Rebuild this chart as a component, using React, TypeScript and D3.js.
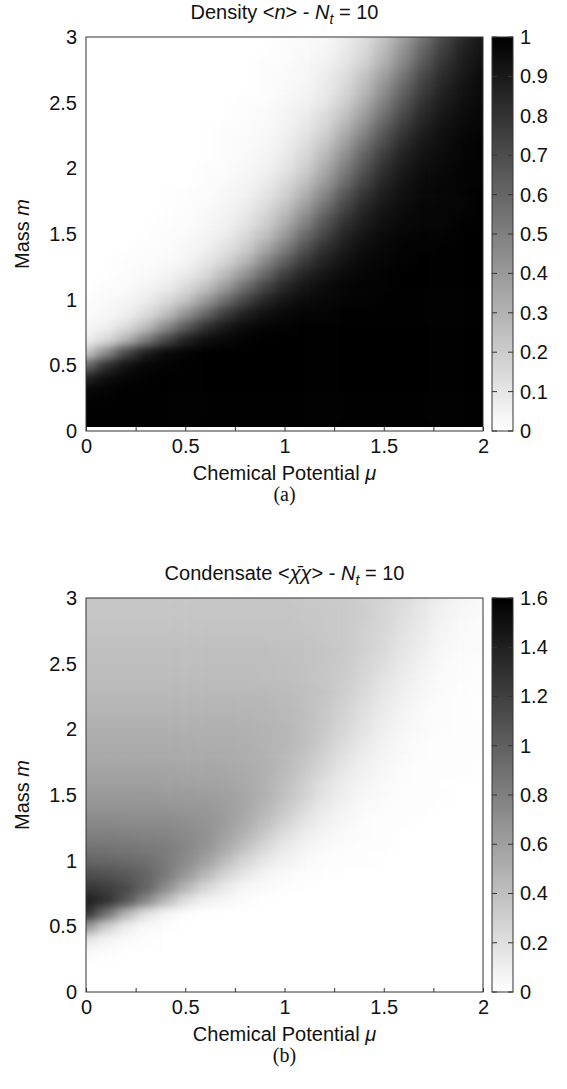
import { useEffect, useRef } from 'react';
import * as d3 from 'd3';

// grid of the two maps: columns = chemical potential mu, rows = mass m
const chemicalPotential = [0, 0.1, 0.2, 0.3, 0.4, 0.5, 0.6, 0.7, 0.8, 0.9, 1, 1.1, 1.2, 1.3, 1.4, 1.5, 1.6, 1.7, 1.8, 1.9, 2];
const mass = [0.03, 0.1, 0.2, 0.3, 0.4, 0.5, 0.6, 0.7, 0.8, 0.9, 1, 1.1, 1.2, 1.3, 1.4, 1.5, 1.6, 1.7, 1.8, 1.9, 2, 2.1, 2.2, 2.3, 2.4, 2.5, 2.6, 2.7, 2.8, 2.9, 3];

// density <n>, one row per mass value
const density = [
  [1, 1, 1, 1, 1, 1, 1, 1, 1, 1, 1, 1, 1, 1, 1, 1, 1, 1, 1, 1, 1],
  [1, 1, 1, 1, 1, 1, 1, 1, 1, 1, 1, 1, 1, 1, 1, 1, 1, 1, 1, 1, 1],
  [1, 1, 1, 1, 1, 1, 1, 1, 1, 1, 1, 1, 1, 1, 1, 1, 1, 1, 1, 1, 1],
  [0.98, 0.99, 1, 1, 1, 1, 1, 1, 1, 1, 1, 1, 1, 1, 1, 1, 1, 1, 1, 1, 1],
  [0.87, 0.95, 0.98, 0.99, 1, 1, 1, 1, 1, 1, 1, 1, 1, 1, 1, 1, 1, 1, 1, 1, 1],
  [0.58, 0.81, 0.93, 0.98, 0.99, 1, 1, 1, 1, 1, 1, 1, 1, 1, 1, 1, 1, 1, 1, 1, 1],
  [0.21, 0.45, 0.71, 0.88, 0.96, 0.99, 1, 1, 1, 1, 1, 1, 1, 1, 1, 1, 1, 1, 1, 1, 1],
  [0.06, 0.14, 0.29, 0.5, 0.71, 0.86, 0.94, 0.97, 0.99, 1, 1, 1, 1, 1, 1, 1, 1, 1, 1, 1, 1],
  [0.03, 0.06, 0.13, 0.25, 0.44, 0.64, 0.8, 0.9, 0.96, 0.98, 0.99, 1, 1, 1, 1, 1, 1, 1, 1, 1, 1],
  [0.01, 0.03, 0.06, 0.13, 0.24, 0.41, 0.59, 0.76, 0.87, 0.94, 0.97, 0.99, 0.99, 1, 1, 1, 1, 1, 1, 1, 1],
  [0.01, 0.02, 0.04, 0.07, 0.14, 0.24, 0.39, 0.57, 0.73, 0.85, 0.92, 0.96, 0.98, 0.99, 0.99, 1, 1, 1, 1, 1, 1],
  [0, 0.01, 0.02, 0.04, 0.07, 0.14, 0.24, 0.39, 0.57, 0.73, 0.85, 0.92, 0.96, 0.98, 0.99, 0.99, 1, 1, 1, 1, 1],
  [0, 0, 0.01, 0.02, 0.04, 0.08, 0.14, 0.26, 0.41, 0.59, 0.75, 0.86, 0.92, 0.96, 0.98, 0.99, 1, 1, 1, 1, 1],
  [0, 0, 0.01, 0.01, 0.02, 0.04, 0.09, 0.16, 0.28, 0.45, 0.62, 0.77, 0.87, 0.93, 0.97, 0.98, 0.99, 1, 1, 1, 1],
  [0, 0, 0, 0.01, 0.01, 0.03, 0.05, 0.11, 0.19, 0.33, 0.5, 0.67, 0.81, 0.89, 0.95, 0.97, 0.99, 0.99, 1, 1, 1],
  [0, 0, 0, 0, 0.01, 0.02, 0.04, 0.07, 0.14, 0.24, 0.39, 0.57, 0.73, 0.85, 0.92, 0.96, 0.98, 0.99, 0.99, 1, 1],
  [0, 0, 0, 0, 0.01, 0.01, 0.03, 0.05, 0.1, 0.18, 0.31, 0.48, 0.66, 0.8, 0.89, 0.94, 0.97, 0.98, 0.99, 1, 1],
  [0, 0, 0, 0, 0, 0.01, 0.02, 0.04, 0.07, 0.14, 0.24, 0.39, 0.57, 0.73, 0.85, 0.92, 0.96, 0.98, 0.99, 0.99, 1],
  [0, 0, 0, 0, 0, 0.01, 0.01, 0.03, 0.05, 0.1, 0.18, 0.31, 0.48, 0.66, 0.8, 0.89, 0.94, 0.97, 0.98, 0.99, 1],
  [0, 0, 0, 0, 0, 0, 0.01, 0.02, 0.04, 0.07, 0.14, 0.24, 0.39, 0.57, 0.73, 0.85, 0.92, 0.96, 0.98, 0.99, 0.99],
  [0, 0, 0, 0, 0, 0, 0.01, 0.01, 0.03, 0.05, 0.1, 0.19, 0.33, 0.5, 0.67, 0.81, 0.9, 0.95, 0.97, 0.99, 0.99],
  [0, 0, 0, 0, 0, 0, 0, 0.01, 0.02, 0.04, 0.08, 0.15, 0.27, 0.43, 0.61, 0.76, 0.87, 0.93, 0.96, 0.98, 0.99],
  [0, 0, 0, 0, 0, 0, 0, 0.01, 0.02, 0.03, 0.06, 0.12, 0.22, 0.36, 0.54, 0.7, 0.83, 0.91, 0.95, 0.98, 0.99],
  [0, 0, 0, 0, 0, 0, 0, 0.01, 0.01, 0.02, 0.05, 0.09, 0.17, 0.3, 0.46, 0.64, 0.78, 0.88, 0.94, 0.97, 0.98],
  [0, 0, 0, 0, 0, 0, 0, 0, 0.01, 0.02, 0.04, 0.07, 0.14, 0.24, 0.39, 0.57, 0.73, 0.85, 0.92, 0.96, 0.98],
  [0, 0, 0, 0, 0, 0, 0, 0, 0.01, 0.01, 0.03, 0.05, 0.1, 0.19, 0.33, 0.5, 0.67, 0.81, 0.9, 0.95, 0.97],
  [0, 0, 0, 0, 0, 0, 0, 0, 0, 0.01, 0.02, 0.04, 0.08, 0.15, 0.27, 0.43, 0.61, 0.76, 0.87, 0.93, 0.96],
  [0, 0, 0, 0, 0, 0, 0, 0, 0, 0.01, 0.02, 0.03, 0.07, 0.13, 0.23, 0.38, 0.55, 0.72, 0.84, 0.91, 0.96],
  [0, 0, 0, 0, 0, 0, 0, 0, 0, 0.01, 0.01, 0.03, 0.05, 0.1, 0.18, 0.31, 0.48, 0.66, 0.8, 0.89, 0.94],
  [0, 0, 0, 0, 0, 0, 0, 0, 0, 0, 0.01, 0.02, 0.04, 0.08, 0.15, 0.27, 0.43, 0.61, 0.76, 0.87, 0.93],
  [0, 0, 0, 0, 0, 0, 0, 0, 0, 0, 0.01, 0.02, 0.03, 0.07, 0.13, 0.23, 0.38, 0.55, 0.72, 0.84, 0.91],
];

// condensate <chibar chi>, one row per mass value
const condensate = [
  [0, 0, 0, 0, 0, 0, 0, 0, 0, 0, 0, 0, 0, 0, 0, 0, 0, 0, 0, 0, 0],
  [0, 0, 0, 0, 0, 0, 0, 0, 0, 0, 0, 0, 0, 0, 0, 0, 0, 0, 0, 0, 0],
  [0, 0, 0, 0, 0, 0, 0, 0, 0, 0, 0, 0, 0, 0, 0, 0, 0, 0, 0, 0, 0],
  [0.03, 0.02, 0, 0, 0, 0, 0, 0, 0, 0, 0, 0, 0, 0, 0, 0, 0, 0, 0, 0, 0],
  [0.16, 0.07, 0.03, 0.01, 0, 0, 0, 0, 0, 0, 0, 0, 0, 0, 0, 0, 0, 0, 0, 0, 0],
  [0.67, 0.3, 0.11, 0.03, 0.02, 0, 0, 0, 0, 0, 0, 0, 0, 0, 0, 0, 0, 0, 0, 0, 0],
  [1.28, 0.89, 0.47, 0.19, 0.06, 0.02, 0, 0, 0, 0, 0, 0, 0, 0, 0, 0, 0, 0, 0, 0, 0],
  [1.41, 1.29, 1.07, 0.75, 0.44, 0.21, 0.09, 0.05, 0.02, 0, 0, 0, 0, 0, 0, 0, 0, 0, 0, 0, 0],
  [1.26, 1.22, 1.13, 0.98, 0.73, 0.47, 0.26, 0.13, 0.05, 0.03, 0.01, 0, 0, 0, 0, 0, 0, 0, 0, 0, 0],
  [1.11, 1.09, 1.05, 0.97, 0.85, 0.66, 0.46, 0.27, 0.15, 0.07, 0.03, 0.01, 0.01, 0, 0, 0, 0, 0, 0, 0, 0],
  [0.97, 0.96, 0.94, 0.91, 0.84, 0.74, 0.6, 0.42, 0.26, 0.15, 0.08, 0.04, 0.02, 0.01, 0.01, 0, 0, 0, 0, 0, 0],
  [0.88, 0.87, 0.86, 0.84, 0.82, 0.76, 0.67, 0.54, 0.38, 0.24, 0.13, 0.07, 0.04, 0.02, 0.01, 0.01, 0, 0, 0, 0, 0],
  [0.8, 0.8, 0.79, 0.78, 0.77, 0.74, 0.69, 0.59, 0.47, 0.33, 0.2, 0.11, 0.06, 0.03, 0.02, 0.01, 0, 0, 0, 0, 0],
  [0.74, 0.74, 0.73, 0.73, 0.73, 0.71, 0.67, 0.62, 0.53, 0.41, 0.28, 0.17, 0.1, 0.05, 0.02, 0.01, 0.01, 0, 0, 0, 0],
  [0.68, 0.68, 0.68, 0.67, 0.67, 0.66, 0.65, 0.61, 0.55, 0.46, 0.34, 0.22, 0.13, 0.07, 0.03, 0.02, 0.01, 0.01, 0, 0, 0],
  [0.64, 0.64, 0.64, 0.64, 0.63, 0.63, 0.61, 0.6, 0.55, 0.49, 0.39, 0.28, 0.17, 0.1, 0.05, 0.03, 0.01, 0.01, 0.01, 0, 0],
  [0.6, 0.6, 0.6, 0.6, 0.59, 0.59, 0.58, 0.57, 0.54, 0.49, 0.41, 0.31, 0.2, 0.12, 0.07, 0.04, 0.02, 0.01, 0.01, 0, 0],
  [0.57, 0.57, 0.57, 0.57, 0.57, 0.56, 0.56, 0.55, 0.53, 0.49, 0.43, 0.35, 0.25, 0.15, 0.09, 0.05, 0.02, 0.01, 0.01, 0.01, 0],
  [0.54, 0.54, 0.54, 0.54, 0.54, 0.53, 0.53, 0.52, 0.51, 0.49, 0.44, 0.37, 0.28, 0.18, 0.11, 0.06, 0.03, 0.02, 0.01, 0.01, 0],
  [0.52, 0.52, 0.52, 0.52, 0.52, 0.52, 0.51, 0.51, 0.5, 0.48, 0.45, 0.4, 0.32, 0.22, 0.14, 0.08, 0.04, 0.02, 0.01, 0.01, 0.01],
  [0.5, 0.5, 0.5, 0.5, 0.5, 0.5, 0.5, 0.5, 0.49, 0.48, 0.45, 0.41, 0.34, 0.25, 0.17, 0.1, 0.05, 0.03, 0.02, 0.01, 0.01],
  [0.48, 0.48, 0.48, 0.48, 0.48, 0.48, 0.48, 0.48, 0.47, 0.46, 0.44, 0.41, 0.35, 0.27, 0.19, 0.12, 0.06, 0.03, 0.02, 0.01, 0],
  [0.46, 0.46, 0.46, 0.46, 0.46, 0.46, 0.46, 0.46, 0.45, 0.45, 0.43, 0.4, 0.36, 0.29, 0.21, 0.14, 0.08, 0.04, 0.02, 0.01, 0],
  [0.44, 0.44, 0.44, 0.44, 0.44, 0.44, 0.44, 0.44, 0.44, 0.43, 0.42, 0.4, 0.37, 0.31, 0.24, 0.16, 0.1, 0.05, 0.03, 0.01, 0.01],
  [0.42, 0.42, 0.42, 0.42, 0.42, 0.42, 0.42, 0.42, 0.42, 0.41, 0.4, 0.39, 0.36, 0.32, 0.26, 0.18, 0.11, 0.06, 0.03, 0.02, 0.01],
  [0.41, 0.41, 0.41, 0.41, 0.41, 0.41, 0.41, 0.41, 0.41, 0.41, 0.4, 0.39, 0.37, 0.33, 0.27, 0.21, 0.14, 0.08, 0.04, 0.02, 0.01],
  [0.4, 0.4, 0.4, 0.4, 0.4, 0.4, 0.4, 0.4, 0.4, 0.4, 0.39, 0.38, 0.37, 0.34, 0.29, 0.23, 0.16, 0.1, 0.05, 0.03, 0.02],
  [0.38, 0.38, 0.38, 0.38, 0.38, 0.38, 0.38, 0.38, 0.38, 0.38, 0.37, 0.37, 0.35, 0.33, 0.29, 0.24, 0.17, 0.11, 0.06, 0.03, 0.02],
  [0.37, 0.37, 0.37, 0.37, 0.37, 0.37, 0.37, 0.37, 0.37, 0.37, 0.37, 0.36, 0.35, 0.33, 0.3, 0.26, 0.19, 0.13, 0.07, 0.04, 0.02],
  [0.36, 0.36, 0.36, 0.36, 0.36, 0.36, 0.36, 0.36, 0.36, 0.36, 0.36, 0.35, 0.35, 0.33, 0.31, 0.26, 0.21, 0.14, 0.09, 0.05, 0.03],
  [0.35, 0.35, 0.35, 0.35, 0.35, 0.35, 0.35, 0.35, 0.35, 0.35, 0.35, 0.34, 0.34, 0.33, 0.3, 0.27, 0.22, 0.16, 0.1, 0.06, 0.03],
];

const muTicks = [0, 0.25, 0.5, 0.75, 1, 1.25, 1.5, 1.75, 2];
const muLabels = [0, 0.5, 1, 1.5, 2];
const massLabels = [0, 0.5, 1, 1.5, 2, 2.5, 3];
const densityTicks = [0, 0.1, 0.2, 0.3, 0.4, 0.5, 0.6, 0.7, 0.8, 0.9, 1];
const condensateTicks = [0, 0.2, 0.4, 0.6, 0.8, 1, 1.2, 1.4, 1.6];

const FONT = '"Liberation Sans", Arial, Helvetica, sans-serif';
const FS = 20;
const W = 567;
const H = 1089;
const left = 86;
const right = 483;
const plotH = 394;
const barX = 492;
const barW = 21;

// cell borders half way between grid points, edge cells pushed out so the blur has something to eat
function edges(vals, pad) {
  const e = vals.map((v, i) => (i === 0 ? v - pad : (vals[i - 1] + v) / 2));
  e.push(vals[vals.length - 1] + pad);
  return e;
}

function Panel({ id, top, grid, max, barTicks, title, tag }) {
  const xAxisRef = useRef(null);
  const yAxisRef = useRef(null);
  const barAxisRef = useRef(null);

  const x = d3.scaleLinear().domain([0, 2]).range([left, right]);
  const y = d3.scaleLinear().domain([0, 3]).range([top + plotH, top]);
  const cy = d3.scaleLinear().domain([0, max]).range([top + plotH, top]);
  const color = d3.scaleLinear().domain([0, max]).range(['#ffffff', '#000000']);

  const muEdges = edges(chemicalPotential, 0.2);
  const massEdges = edges(mass, 0.2);

  useEffect(() => {
    const fmt = d3.format('');
    const xa = d3.axisBottom(x).tickValues(muTicks).tickSizeInner(-4).tickSizeOuter(0).tickPadding(8)
      .tickFormat(d => (muLabels.includes(d) ? fmt(d) : ''));
    const ya = d3.axisLeft(y).tickValues(massLabels).tickSize(0).tickPadding(9).tickFormat(fmt);
    const ba = d3.axisRight(cy).tickValues(barTicks).tickSize(0).tickPadding(7).tickFormat(fmt);

    [[xAxisRef, xa], [yAxisRef, ya], [barAxisRef, ba]].forEach(([ref, ax]) => {
      const g = d3.select(ref.current);
      g.call(ax);
      g.select('.domain').remove();
      g.attr('font-family', FONT).attr('font-size', FS);
      g.selectAll('text').attr('fill', '#111');
      g.selectAll('line').attr('stroke', '#333');
    });
  });

  return (
    <g>
      <defs>
        <clipPath id={'clip' + id}>
          <rect
            x={x(chemicalPotential[0])}
            y={y(mass[mass.length - 1])}
            width={x(chemicalPotential[chemicalPotential.length - 1]) - x(chemicalPotential[0])}
            height={y(mass[0]) - y(mass[mass.length - 1])}
          />
        </clipPath>
        <filter id={'smooth' + id} filterUnits="userSpaceOnUse" x={left - 60} y={top - 60} width={right - left + 120} height={plotH + 120} colorInterpolationFilters="sRGB">
          <feGaussianBlur stdDeviation="7 4.5" />
        </filter>
        <linearGradient id={'bar' + id} x1="0" y1="1" x2="0" y2="0">
          <stop offset="0" stopColor={color(0)} />
          <stop offset="1" stopColor={color(max)} />
        </linearGradient>
      </defs>

      <text x={(left + right) / 2} y={top - 18} textAnchor="middle" fontFamily={FONT} fontSize={FS} fill="#111">
        {title}
      </text>

      <g clipPath={`url(#clip${id})`}>
        <g filter={`url(#smooth${id})`}>
          {grid.map((row, i) =>
            row.map((v, j) => (
              <rect
                key={i + '-' + j}
                x={x(muEdges[j])}
                y={y(massEdges[i + 1])}
                width={x(muEdges[j + 1]) - x(muEdges[j]) + 0.5}
                height={y(massEdges[i]) - y(massEdges[i + 1]) + 0.5}
                fill={color(v)}
              />
            ))
          )}
        </g>
      </g>

      <rect x={left} y={top} width={right - left} height={plotH} fill="none" stroke="#333" strokeWidth={1} />
      <g ref={xAxisRef} transform={`translate(0,${top + plotH})`} />
      <g ref={yAxisRef} transform={`translate(${left},0)`} />

      <rect x={barX} y={top} width={barW} height={plotH} fill={`url(#bar${id})`} stroke="#333" strokeWidth={1} />
      {barTicks.map(t => (
        <g key={t}>
          <line x1={barX} x2={barX + 5} y1={cy(t)} y2={cy(t)} stroke="#333" />
          <line x1={barX + barW - 5} x2={barX + barW} y1={cy(t)} y2={cy(t)} stroke="#333" />
        </g>
      ))}
      <g ref={barAxisRef} transform={`translate(${barX + barW},0)`} />

      <text transform={`translate(29,${top + plotH / 2}) rotate(-90)`} textAnchor="middle" fontFamily={FONT} fontSize={FS} fill="#111">
        Mass <tspan fontStyle="italic">m</tspan>
      </text>
      <text x={(left + right) / 2} y={top + plotH + 49} textAnchor="middle" fontFamily={FONT} fontSize={FS} fill="#111">
        Chemical Potential <tspan fontStyle="italic">μ</tspan>
      </text>
      <text x={(left + right) / 2} y={top + plotH + 70} textAnchor="middle" fontFamily='"Liberation Serif", "Times New Roman", serif' fontSize={20} fill="#111">
        {tag}
      </text>
    </g>
  );
}

function Nt() {
  return (
    <>
      <tspan fontStyle="italic">N</tspan>
      <tspan fontStyle="italic" fontSize={14} dy={5}>t</tspan>
      <tspan dy={-5}>{' = 10'}</tspan>
    </>
  );
}

export default function App() {
  return (
    <svg width={W} height={H} style={{ position: 'absolute', left: 0, top: 0, background: '#fff' }}>
      <rect width={W} height={H} fill="#fff" />
      <Panel
        id="A"
        top={37}
        grid={density}
        max={1}
        barTicks={densityTicks}
        tag="(a)"
        title={
          <>
            {'Density <'}
            <tspan fontStyle="italic">n</tspan>
            {'> - '}
            <Nt />
          </>
        }
      />
      <Panel
        id="B"
        top={598}
        grid={condensate}
        max={1.6}
        barTicks={condensateTicks}
        tag="(b)"
        title={
          <>
            {'Condensate <'}
            <tspan fontStyle="italic">{'\u03C7\u0304\u03C7'}</tspan>
            {'> - '}
            <Nt />
          </>
        }
      />
    </svg>
  );
}
